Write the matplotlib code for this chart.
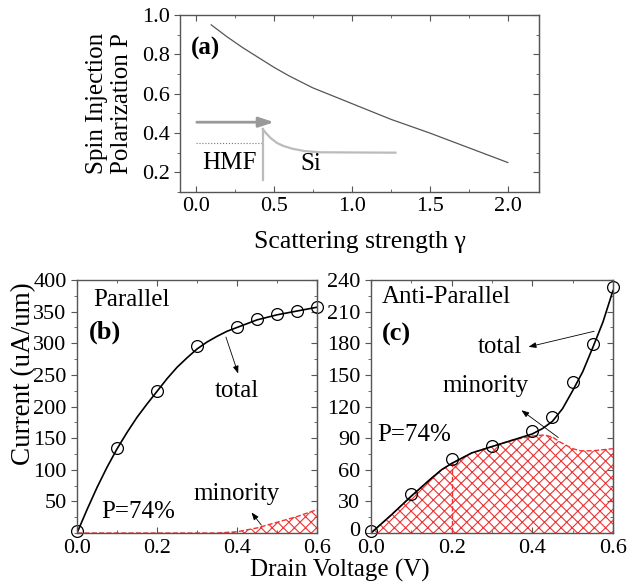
import matplotlib
matplotlib.use('Agg')
import matplotlib.pyplot as plt
from matplotlib.ticker import MultipleLocator
from matplotlib.transforms import ScaledTranslation

plt.rcParams['font.family'] = 'Liberation Serif'
plt.rcParams['hatch.linewidth'] = 0.8

# (a) spin injection polarization vs scattering strength
gamma = [0.1, 0.2, 0.3, 0.4, 0.5, 0.6, 0.75, 1.0, 1.25, 1.5, 1.75, 2.0]
pol = [0.95, 0.89, 0.835, 0.785, 0.735, 0.69, 0.63, 0.55, 0.47, 0.40, 0.325, 0.25]

# inset sketch in (a)
si_x = [0.43, 0.45, 0.48, 0.52, 0.56, 0.62, 0.7, 0.8, 1.28]
si_y = [0.42, 0.40, 0.375, 0.35, 0.335, 0.32, 0.308, 0.302, 0.30]

# (b) parallel
vb_pts = [0.0, 0.1, 0.2, 0.3, 0.4, 0.45, 0.5, 0.55, 0.6]
ib_pts = [3, 135, 224, 295, 325, 339, 346, 351, 358]
vb_line = [0.0, 0.025, 0.05, 0.075, 0.1, 0.125, 0.15, 0.175, 0.2, 0.225, 0.25, 0.275,
           0.3, 0.325, 0.35, 0.375, 0.4, 0.45, 0.5, 0.55, 0.6]
ib_line = [0, 37, 72, 104, 133, 159, 183, 204, 224, 244, 262, 277,
           291, 302, 311, 319, 325, 337, 345, 351, 357]
vb_min = [0.0, 0.35, 0.4, 0.45, 0.5, 0.55, 0.6]
ib_min = [0, 0, 2, 8, 17, 26, 37]

# (c) anti-parallel
vc_pts = [0.0, 0.1, 0.2, 0.3, 0.4, 0.45, 0.5, 0.55, 0.6]
ic_pts = [2, 37, 70, 83, 97, 110, 143, 179, 233]
vc_line = [0.0, 0.05, 0.1, 0.15, 0.175, 0.2, 0.225, 0.25, 0.275, 0.3, 0.35, 0.4,
           0.425, 0.45, 0.475, 0.5, 0.525, 0.55, 0.575, 0.6]
ic_line = [0, 17, 35, 52, 60, 66, 71, 76, 79, 82, 88, 94,
           99, 106, 118, 135, 153, 176, 200, 230]
vc_min = [0.0, 0.05, 0.1, 0.15, 0.175, 0.2, 0.225, 0.25, 0.275, 0.3, 0.35, 0.4,
          0.43, 0.45, 0.47, 0.5, 0.52, 0.55, 0.6]
ic_min = [0, 17, 35, 52, 60, 66, 71, 76, 79, 82, 88, 92,
          93, 91, 86, 80, 78, 78, 80]

tfs = 16      # tick labels
fs = 18       # annotations
lfs = 18      # axis labels
spine_c = '#555555'
red = '#ee3333'


def style(ax, ymin, xpad=3.5):
    for s in ax.spines.values():
        s.set_color(spine_c)
        s.set_linewidth(1.0)
    ax.yaxis.set_minor_locator(MultipleLocator(ymin))
    ax.tick_params(which='both', colors=spine_c, labelcolor='black', labelsize=tfs,
                   top=True, right=False, direction='in')
    ax.tick_params(axis='y', which='both', direction='out')
    ax.tick_params(axis='x', pad=xpad)
    ax.tick_params(which='major', length=4)
    ax.tick_params(which='minor', length=2.5)
    # right side: inward ticks, no labels
    sec = ax.secondary_yaxis('right')
    sec.set_yticks(ax.get_yticks())
    sec.yaxis.set_minor_locator(MultipleLocator(ymin))
    sec.tick_params(which='both', direction='in', colors=spine_c, labelright=False)
    sec.tick_params(which='major', length=4)
    sec.tick_params(which='minor', length=2.5)
    sec.spines['right'].set_color(spine_c)


arrow_small = dict(arrowstyle='-|>,head_length=0.45,head_width=0.17', color='black', lw=0.6)

fig = plt.figure(figsize=(6.36, 5.84), dpi=100)

ax = fig.add_axes([0.2830, 0.6712, 0.5645, 0.3031])
ax.plot(gamma, pol, color='#555555', lw=0.9)
ax.annotate('', xy=(0.52, 0.455), xytext=(-0.01, 0.455),
            arrowprops=dict(arrowstyle='-|>,head_length=0.9,head_width=0.3',
                            color='#999999', lw=2))
ax.plot([0.0, 0.43], [0.35, 0.35], color='#777777', lw=0.8, ls=':')
ax.plot([0.43, 0.43], [0.16, 0.42], color='#bbbbbb', lw=1.6)
ax.plot(si_x, si_y, color='#bbbbbb', lw=1.6)
ax.text(0.04, 0.25, 'HMF', fontsize=fs, va='center')
ax.text(0.67, 0.24, 'Si', fontsize=fs, va='center')
ax.text(-0.03, 0.83, '(a)', fontsize=fs, fontweight='bold', va='center')
ax.set_xlim(-0.1, 2.2)
ax.set_ylim(0.1, 1.0)
ax.set_xticks([0, 0.5, 1.0, 1.5, 2.0])
ax.set_yticks([0.2, 0.4, 0.6, 0.8, 1.0])
ax.xaxis.set_minor_locator(MultipleLocator(0.25))
style(ax, 0.1)
ax.set_xlabel('Scattering strength γ', fontsize=lfs + 0.5, labelpad=11)
ax.set_ylabel('Spin Injection\nPolarization P', fontsize=lfs, linespacing=1.15)
ax.yaxis.set_label_coords(-0.131, 0.5)

# (b)
bx = fig.add_axes([0.1211, 0.0873, 0.3774, 0.4332])
bx.fill_between(vb_min, 0, ib_min, facecolor='none', edgecolor=red, hatch='xxx', lw=0)
bx.plot(vb_min, ib_min, color=red, lw=1.0, ls='--')
bx.plot(vb_line, ib_line, color='black', lw=1.2)
bx.plot(vb_pts, ib_pts, 'o', mfc='none', mec='black', ms=8.5, mew=0.9, clip_on=False)
bx.text(0.04, 369, 'Parallel', fontsize=fs, va='center')
bx.text(0.03, 317, '(b)', fontsize=fs + 1, fontweight='bold', va='center')
bx.text(0.4, 224, 'total', fontsize=fs, ha='center', va='center')
bx.annotate('', xy=(0.405, 248), xytext=(0.37, 314), arrowprops=arrow_small)
bx.text(0.4, 62, 'minority', fontsize=fs, ha='center', va='center')
bx.annotate('', xy=(0.432, 36), xytext=(0.465, 9), arrowprops=arrow_small)
bx.text(0.06, 33, 'P=74%', fontsize=fs, va='center')
bx.set_xlim(0, 0.6)
bx.set_ylim(0, 400)
bx.set_xticks([0, 0.2, 0.4, 0.6])
bx.set_yticks([50, 100, 150, 200, 250, 300, 350, 400])
bx.xaxis.set_minor_locator(MultipleLocator(0.1))
style(bx, 25, xpad=4.5)
bx.set_ylabel('Current (uA/um)', fontsize=lfs + 1.5)
bx.yaxis.set_label_coords(-0.17, 0.63)

# (c)
cx = fig.add_axes([0.5833, 0.0873, 0.3805, 0.4332])
cx.fill_between(vc_min, 0, ic_min, facecolor='none', edgecolor=red, hatch='xxx', lw=0)
cx.plot(vc_min, ic_min, color=red, lw=1.0, ls='--')
cx.plot([0.2, 0.2], [0, 66], color=red, lw=1.0, ls='--')
cx.plot(vc_line, ic_line, color='black', lw=1.2)
cx.plot(vc_pts, ic_pts, 'o', mfc='none', mec='black', ms=8.5, mew=0.9, clip_on=False)
cx.text(0.026, 224, 'Anti-Parallel', fontsize=fs, va='center')
cx.text(0.026, 188, '(c)', fontsize=fs + 1, fontweight='bold', va='center')
cx.text(0.32, 176, 'total', fontsize=fs, ha='center', va='center')
cx.annotate('', xy=(0.384, 176), xytext=(0.56, 192), arrowprops=arrow_small)
cx.text(0.285, 139, 'minority', fontsize=fs, ha='center', va='center')
cx.annotate('', xy=(0.3675, 118), xytext=(0.47, 89), arrowprops=arrow_small)
cx.text(0.015, 93, 'P=74%', fontsize=fs, va='center')
cx.set_xlim(0, 0.6)
cx.set_ylim(0, 240)
cx.set_xticks([0, 0.2, 0.4, 0.6])
cx.set_yticks(range(0, 241, 30))
cx.xaxis.set_minor_locator(MultipleLocator(0.1))
style(cx, 15, xpad=4.5)
# lift the "0" label a little so it sits just above the "0.0" below it
zero_lbl = cx.get_yticklabels()[0]
zero_lbl.set_transform(zero_lbl.get_transform() + ScaledTranslation(0, 3 / 72, fig.dpi_scale_trans))

fig.text(340 / 636, 2 / 584, 'Drain Voltage (V)', fontsize=lfs, ha='center', va='bottom')

fig.savefig('out.png', dpi=100)
